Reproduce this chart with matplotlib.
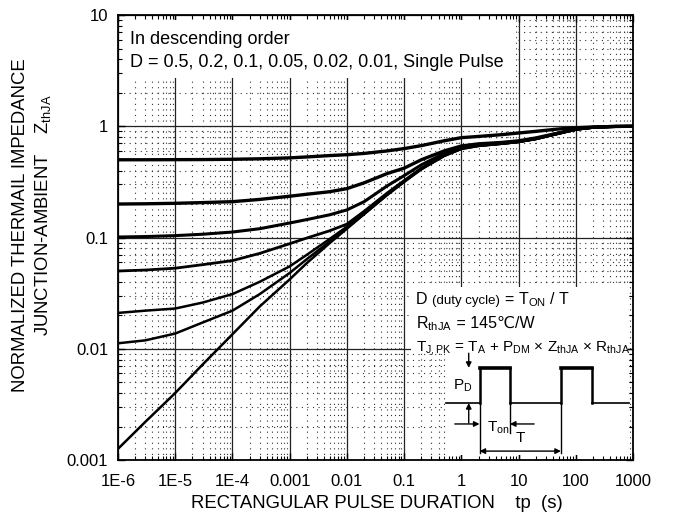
import numpy as np
import matplotlib.pyplot as plt
from matplotlib.patches import Rectangle
from matplotlib.ticker import FixedLocator, LogLocator, NullFormatter

plt.rcParams['font.family'] = ['Liberation Sans', 'DejaVu Sans']

# pulse duration (s)
tp = [1e-6, 3e-6, 1e-5, 3e-5, 1e-4, 3e-4, 1e-3, 2e-3, 5e-3, 1e-2, 2e-2, 5e-2,
      0.1, 0.2, 0.5, 1, 2, 5, 10, 20, 50, 100, 200, 500, 1000]

# normalized Zth curves
z_d50 = [0.500, 0.500, 0.501, 0.502, 0.505, 0.51, 0.52, 0.53, 0.545, 0.555, 0.57, 0.60,
         0.63, 0.67, 0.74, 0.79, 0.81, 0.84, 0.87, 0.90, 0.945, 0.97, 0.985, 0.997, 1.0]
z_d20 = [0.200, 0.201, 0.203, 0.206, 0.21, 0.22, 0.235, 0.245, 0.258, 0.275, 0.31, 0.375,
         0.42, 0.50, 0.60, 0.665, 0.695, 0.715, 0.74, 0.785, 0.87, 0.945, 0.98, 0.997, 1.0]
z_d10 = [0.101, 0.102, 0.104, 0.107, 0.112, 0.12, 0.135, 0.145, 0.16, 0.177, 0.21, 0.29,
         0.36, 0.45, 0.57, 0.645, 0.68, 0.705, 0.73, 0.775, 0.865, 0.94, 0.978, 0.996, 1.0]
z_d05 = [0.050, 0.051, 0.053, 0.057, 0.062, 0.072, 0.088, 0.099, 0.115, 0.132, 0.172, 0.25,
         0.325, 0.42, 0.55, 0.635, 0.673, 0.70, 0.727, 0.772, 0.862, 0.937, 0.976, 0.995, 1.0]
z_d02 = [0.021, 0.022, 0.023, 0.026, 0.031, 0.040, 0.055, 0.07, 0.097, 0.125, 0.166, 0.244,
         0.32, 0.415, 0.545, 0.632, 0.67, 0.698, 0.725, 0.77, 0.86, 0.936, 0.976, 0.995, 1.0]
z_d01 = [0.0112, 0.0119, 0.0137, 0.0172, 0.022, 0.031, 0.048, 0.064, 0.092, 0.122, 0.163, 0.241,
         0.318, 0.413, 0.543, 0.628, 0.667, 0.696, 0.723, 0.768, 0.86, 0.935, 0.975, 0.995, 1.0]
z_single = [0.00126, 0.0022, 0.004, 0.0072, 0.0135, 0.024, 0.042, 0.059, 0.089, 0.12, 0.162, 0.24,
            0.316, 0.41, 0.54, 0.625, 0.665, 0.695, 0.722, 0.767, 0.858, 0.935, 0.975, 0.995, 1.0]

x_ticks = [1e-6, 1e-5, 1e-4, 1e-3, 1e-2, 1e-1, 1, 10, 100, 1000]
x_labels = ['1E-6', '1E-5', '1E-4', '0.001', '0.01', '0.1', '1', '10', '100', '1000']
y_ticks = [0.001, 0.01, 0.1, 1, 10]
y_labels = ['0.001', '0.01', '0.1', '1', '10']

fig = plt.figure(figsize=(6.73, 5.16), dpi=100)
ax = fig.add_axes([0.1753, 0.1085, 0.7653, 0.8624])

for z, lw in [(z_d50, 2.4), (z_d20, 2.4), (z_d10, 2.2), (z_d05, 2.0),
              (z_d02, 1.8), (z_d01, 1.8), (z_single, 1.8)]:
    ax.plot(tp, z, color='black', lw=lw, solid_capstyle='butt', zorder=3)

ax.set_xscale('log')
ax.set_yscale('log')
ax.set_xlim(1e-6, 1000)
ax.set_ylim(0.001, 10)
ax.xaxis.set_major_locator(FixedLocator(x_ticks))
ax.set_xticklabels(x_labels)
ax.yaxis.set_major_locator(FixedLocator(y_ticks))
ax.set_yticklabels(y_labels)
for axis in (ax.xaxis, ax.yaxis):
    axis.set_minor_locator(LogLocator(base=10, subs=np.arange(2, 10), numticks=20))
    axis.set_minor_formatter(NullFormatter())
ax.tick_params(which='both', direction='in', top=True, right=True, labelsize=12)
ax.tick_params(which='major', length=5, width=1)
ax.tick_params(axis='x', which='major', pad=10)
ax.tick_params(axis='y', which='major', pad=7)
ax.tick_params(which='minor', length=3, width=0.8)

ax.grid(which='major', color='#222222', lw=0.9)
ax.grid(which='minor', color='#333333', lw=0.8, ls=(0, (1, 4)))
for s in ax.spines.values():
    s.set_linewidth(1.3)

# white areas holding the notes
ax.add_patch(Rectangle((0.010, 0.858), 0.762, 0.130, transform=ax.transAxes,
                       facecolor='white', edgecolor='none', zorder=2))
ax.add_patch(Rectangle((0.568, 0.240), 0.422, 0.149, transform=ax.transAxes,
                       facecolor='white', edgecolor='none', zorder=2))
ax.add_patch(Rectangle((0.636, 0.012), 0.354, 0.240, transform=ax.transAxes,
                       facecolor='white', edgecolor='none', zorder=2))

ax.text(0.023, 0.945, 'In descending order', transform=ax.transAxes,
        fontsize=13, va='center', zorder=4)
ax.text(0.023, 0.893, 'D = 0.5, 0.2, 0.1, 0.05, 0.02, 0.01, Single Pulse',
        transform=ax.transAxes, fontsize=13, va='center', zorder=4)


def chain(x, y, pieces):
    prev = None
    for s, size in pieces:
        if prev is None:
            prev = ax.text(x, y, s, transform=ax.transAxes, fontsize=size,
                           va='baseline', zorder=4)
        else:
            prev = ax.annotate(s, xy=(1, y), xycoords=(prev, 'axes fraction'),
                               fontsize=size, va='baseline', ha='left', zorder=4)


chain(0.578, 0.350, [('D ', 11.5), ('(duty cycle)', 9.5),
                     (r' = T$_\mathregular{ON}$ / T', 11.5)])
chain(0.578, 0.297, [(r'R$_\mathregular{thJA}$', 11.5), (' = 145℃/W', 11.5)])
chain(0.578, 0.244, [(r'T$_\mathregular{J,PK}$ = T$_\mathregular{A}$ + P$_\mathregular{DM}$'
                      r' × Z$_\mathregular{thJA}$ × R$_\mathregular{thJA}$', 11)])

# pulse train sketch (axes fraction)
low, high = 0.128, 0.207
x_on1, x_off1, x_on2, x_off2 = 0.702, 0.761, 0.860, 0.920
kw = dict(transform=ax.transAxes, color='black', zorder=4)
ax.plot([0.636, x_on1], [low, low], lw=1.2, **kw)
ax.plot([x_off1, x_on2], [low, low], lw=1.2, **kw)
ax.plot([x_off2, 0.992], [low, low], lw=1.2, **kw)
ax.plot([x_on1, x_off1], [high, high], lw=2.6, **kw)
ax.plot([x_on2, x_off2], [high, high], lw=2.6, **kw)
ax.plot([x_on1, x_on1], [low, high], lw=1.8, **kw)
ax.plot([x_on2, x_on2], [low, high], lw=1.8, **kw)
ax.plot([x_off1, x_off1], [low, high], lw=1.8, **kw)
ax.plot([x_off2, x_off2], [low, high], lw=1.8, **kw)
ax.plot([x_on1, x_on1], [0.016, low], lw=1.0, **kw)
ax.plot([x_on2, x_on2], [0.016, low], lw=1.0, **kw)
ax.plot([x_off1, x_off1], [0.061, low], lw=1.0, **kw)

ap = dict(arrowstyle='-|>', lw=1.0, color='black', mutation_scale=8,
          shrinkA=0, shrinkB=0)
for start, end in [((0.681, 0.240), (0.681, high)), ((0.681, 0.083), (0.681, low)),
                   ((0.654, 0.081), (x_on1, 0.081)), ((0.808, 0.081), (x_off1, 0.081))]:
    ax.annotate('', xy=end, xytext=start, xycoords='axes fraction',
                arrowprops=ap, zorder=4)
ax.annotate('', xy=(x_on1, 0.020), xytext=(x_on2, 0.020), xycoords='axes fraction',
            arrowprops=dict(arrowstyle='<|-|>', lw=1.0, color='black',
                            mutation_scale=8, shrinkA=0, shrinkB=0), zorder=4)
ax.text(0.670, 0.168, r'P$_\mathregular{D}$', transform=ax.transAxes,
        fontsize=11, ha='center', va='center', zorder=4)
ax.text(0.738, 0.072, r'T$_\mathregular{on}$', transform=ax.transAxes,
        fontsize=11, ha='center', va='center', zorder=4)
ax.text(0.781, 0.050, 'T', transform=ax.transAxes,
        fontsize=11, ha='center', va='center', zorder=4)

fig.text(0.030, 0.564, 'NORMALIZED THERMAIL IMPEDANCE', rotation=90,
         fontsize=13.3, ha='center', va='center')
fig.text(0.064, 0.584, r'JUNCTION-AMBIENT    Z$_\mathregular{thJA}$', rotation=90,
         fontsize=13.3, ha='center', va='center')
fig.text(0.560, 0.025, 'RECTANGULAR PULSE DURATION    tp  (s)',
         fontsize=13.3, ha='center', va='center')

fig.savefig('out.png', dpi=100)
